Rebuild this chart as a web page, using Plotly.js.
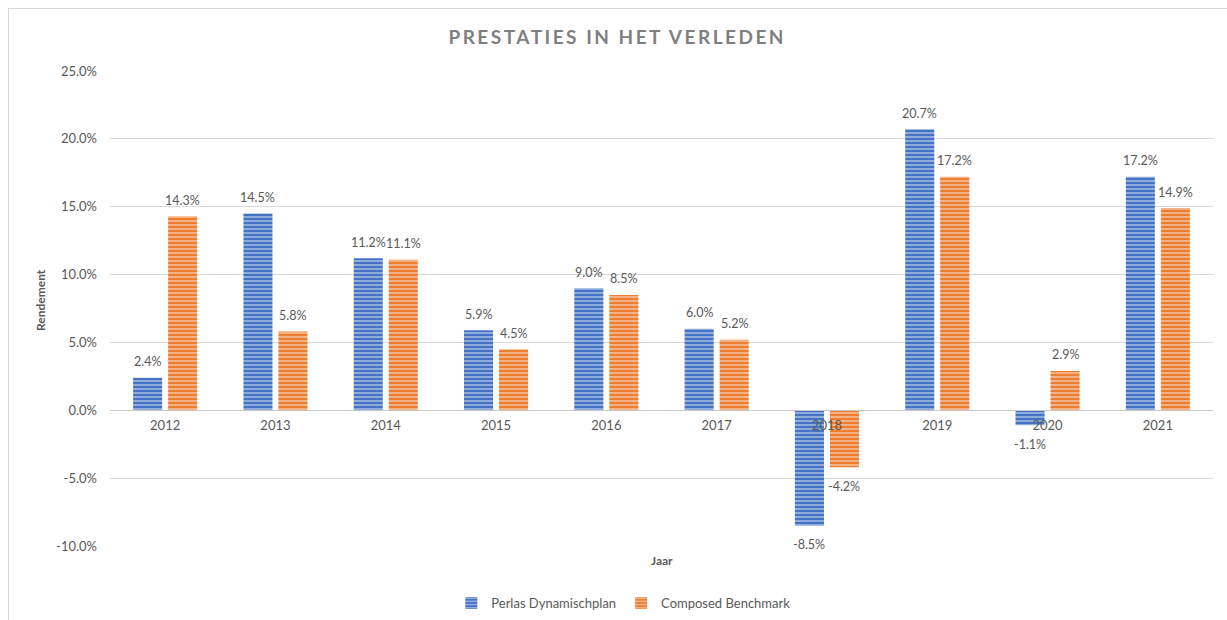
<!DOCTYPE html>
<html>
<head>
<meta charset="utf-8">
<script src="https://cdn.plot.ly/plotly-3.0.1.min.js"></script>
<style>
  html, body { margin: 0; padding: 0; background: #ffffff; }
  #wrap { position: relative; width: 1227px; height: 620px; overflow: hidden; }
  #frame { position: absolute; left: 8px; top: 8px; width: 1300px; height: 700px;
           border-left: 1px solid #d9d9d9; border-top: 1px solid #d9d9d9; pointer-events: none; }
  #chart { position: absolute; left: 0; top: 0; width: 1227px; height: 620px; }
</style>
</head>
<body>
<div id="wrap">
  <div id="chart"></div>
  <div id="frame"></div>
</div>
<script>
const years = ['2012', '2013', '2014', '2015', '2016', '2017', '2018', '2019', '2020', '2021'];
const perlas = [2.4, 14.5, 11.2, 5.9, 9.0, 6.0, -8.5, 20.7, -1.1, 17.2];
const benchmark = [14.3, 5.8, 11.1, 4.5, 8.5, 5.2, -4.2, 17.2, 2.9, 14.9];
const seriesNames = ['Perlas Dynamischplan', 'Composed Benchmark'];
const yTickValues = [-10, -5, 0, 5, 10, 15, 20, 25];
const titleText = 'PRESTATIES IN HET VERLEDEN';
const xTitle = 'Jaar';
const yTitle = 'Rendement';

const FONT = 'Lato, "Open Sans", sans-serif';
const GREY = '#595959';

function pct(v) { return v.toFixed(1) + '%'; }

function barTrace(name, values, color) {
  return {
    type: 'bar',
    name: name,
    x: years,
    y: values,
    cliponaxis: false,
    marker: {
      color: color,
      line: { width: 0 },
      pattern: { shape: '-', fgcolor: 'rgba(255,255,255,0.5)', bgcolor: color, size: 4, solidity: 0.4 }
    },
    hoverinfo: 'skip'
  };
}

const data = [
  barTrace(seriesNames[0], perlas, '#4472c4'),
  barTrace(seriesNames[1], benchmark, '#ed7d31')
];

const yMin = -10, yMax = 25;
const BARGAP = 0.365;
const plotW = 1227 - 110 - 14;
const slotPx = plotW / years.length * (1 - BARGAP) / 2;

// value labels placed through the axes (category index + value), offset to each bar of the group
function valueLabels(values, side) {
  return values.map(function (v, i) {
    return {
      text: pct(v), xref: 'x', yref: 'y', x: i, y: v,
      xshift: side * slotPx / 2, yshift: v >= 0 ? 16 : -19,
      xanchor: 'center', yanchor: 'middle', showarrow: false,
      font: { family: FONT, size: 12.5, color: GREY }
    };
  });
}

const layout = {
  width: 1227,
  height: 620,
  margin: { l: 110, r: 14, t: 71, b: 74 },
  paper_bgcolor: '#ffffff',
  plot_bgcolor: '#ffffff',
  font: { family: FONT, size: 13, color: GREY },
  title: {
    text: titleText,
    font: { family: FONT, size: 19, color: '#7f7f7f', weight: 'bold' },
    xref: 'container', x: 0.503, xanchor: 'center',
    yref: 'container', y: 1 - 37 / 620, yanchor: 'middle'
  },
  barmode: 'group',
  bargap: BARGAP,
  bargroupgap: 0.17,
  showlegend: true,
  legend: {
    orientation: 'h',
    xref: 'container', x: 0.508, xanchor: 'center',
    yref: 'container', y: 1 - 603 / 620, yanchor: 'middle',
    font: { family: FONT, size: 13, color: GREY },
    itemclick: false, itemdoubleclick: false
  },
  xaxis: {
    type: 'category',
    categoryorder: 'array',
    categoryarray: years,
    range: [-0.5, years.length - 0.5],
    anchor: 'free',
    position: (0 - yMin) / (yMax - yMin),
    showgrid: false,
    showline: true,
    linecolor: '#c9c9c9',
    linewidth: 1,
    ticks: '',
    ticklabelstandoff: 3,
    tickfont: { family: FONT, size: 13, color: GREY },
    fixedrange: true
  },
  yaxis: {
    range: [yMin, yMax],
    tickmode: 'array',
    tickvals: yTickValues,
    ticktext: yTickValues.map(pct),
    showgrid: true,
    gridcolor: '#d9d9d9',
    gridwidth: 1,
    zeroline: false,
    showline: false,
    ticks: '',
    ticklabelstandoff: 12,
    tickfont: { family: FONT, size: 13, color: GREY },
    fixedrange: true
  },
  annotations: [
    {
      text: xTitle, xref: 'paper', yref: 'paper',
      x: 0.5, y: (546 - 560) / 475, xanchor: 'center', yanchor: 'middle',
      showarrow: false, font: { family: FONT, size: 12, color: GREY, weight: 'bold' }
    },
    {
      text: yTitle, xref: 'paper', yref: 'paper', textangle: -90,
      x: (40 - 110) / 1103, y: (546 - 300) / 475, xanchor: 'center', yanchor: 'middle',
      showarrow: false, font: { family: FONT, size: 12, color: GREY, weight: 'bold' }
    }
  ].concat(valueLabels(perlas, -1), valueLabels(benchmark, 1))
};

Plotly.newPlot('chart', data, layout, { displayModeBar: false, staticPlot: true }).then(function () {
  const t = document.querySelector('.gtitle');
  if (t) { t.style.letterSpacing = '2.5px'; }
});
</script>
</body>
</html>
